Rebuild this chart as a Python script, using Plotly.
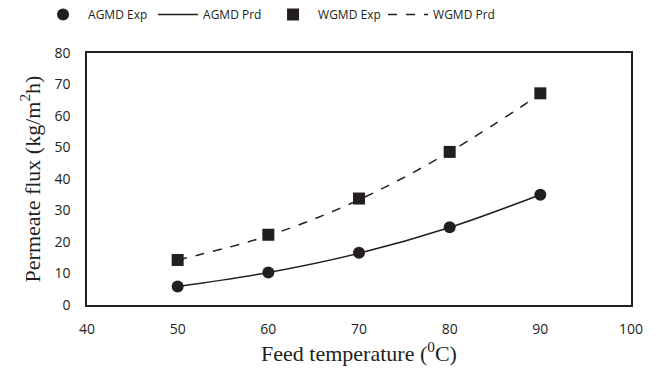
import plotly.graph_objects as go

temps = [50, 60, 70, 80, 90]
agmd_exp = [5.9, 10.3, 16.6, 24.7, 35.0]
agmd_prd = [5.9, 10.3, 16.4, 24.6, 35.0]
wgmd_exp = [14.3, 22.3, 33.8, 48.6, 67.2]
wgmd_prd = [14.3, 22.0, 33.4, 48.6, 67.0]

x_ticks = [40, 50, 60, 70, 80, 90, 100]
y_ticks = [0, 10, 20, 30, 40, 50, 60, 70, 80]

fig = go.Figure()
fig.add_trace(go.Scatter(x=temps, y=agmd_exp, mode="markers", name="AGMD Exp",
                         marker=dict(symbol="circle", size=12, color="#231f20")))
fig.add_trace(go.Scatter(x=temps, y=agmd_prd, mode="lines", name="AGMD Prd",
                         line=dict(color="#231f20", width=1.5, shape="spline")))
fig.add_trace(go.Scatter(x=temps, y=wgmd_exp, mode="markers", name="WGMD Exp",
                         marker=dict(symbol="square", size=12, color="#231f20")))
fig.add_trace(go.Scatter(x=temps, y=wgmd_prd, mode="lines", name="WGMD Prd",
                         line=dict(color="#231f20", width=1.5, dash="dash", shape="spline")))

fig.update_layout(
    width=656, height=371,
    margin=dict(l=87, r=25, t=53, b=66, autoexpand=False),
    paper_bgcolor="white", plot_bgcolor="white",
    font=dict(family="Open Sans", size=14, color="#231f20"),
    showlegend=True,
    legend=dict(orientation="h", x=0.058, xanchor="left", xref="container",
                y=1.0, yanchor="top", yref="container",
                font=dict(size=12, family="Open Sans"),
                itemwidth=40, traceorder="normal",
                entrywidth=60, entrywidthmode="pixels"),
    xaxis=dict(range=[40, 100], tickvals=x_ticks, showgrid=False, zeroline=False,
               showline=True, mirror=True, linecolor="#231f20", linewidth=1.5,
               ticks="", ticklabelstandoff=10,
               title=dict(text="Feed temperature (<sup>0</sup>C)",
                          font=dict(family="Liberation Serif", size=22), standoff=4)),
    yaxis=dict(range=[0, 80], tickvals=y_ticks, showgrid=False, zeroline=False,
               showline=True, mirror=True, linecolor="#231f20", linewidth=1.5,
               ticks="", ticklabelstandoff=12,
               title=dict(text="Permeate flux (kg/m<sup>2</sup>h)",
                          font=dict(family="Liberation Serif", size=22), standoff=8)),
)

fig.write_html("out.html")
